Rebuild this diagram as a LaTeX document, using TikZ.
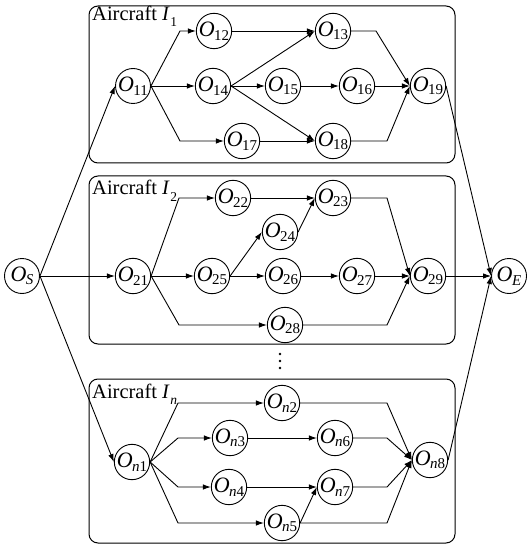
\documentclass[tikz,border=0pt]{standalone}
\usepackage{fontspec}
\setmainfont{Liberation Serif}
\usetikzlibrary{arrows.meta}
% operation label O_{ij}: italic O with an upright, lowered index
\newcommand\opn[1]{\textit{O}\kern-0.5pt\raisebox{-3.5pt}{\fontsize{15}{15}\selectfont #1}}
% group title "Aircraft I_k"
\newcommand\acl[1]{Aircraft \textit{I}\kern0.5pt\raisebox{-6pt}{\fontsize{13.5}{13.5}\selectfont #1}}

\begin{document}
\begin{tikzpicture}[x=1pt,y=-1pt,
  op/.style={circle,draw,line width=0.9pt,minimum size=35pt,inner sep=0pt,
             font=\fontsize{22}{22}\selectfont},
  grp/.style={draw,line width=1pt,rounded corners=9pt},
  lbl/.style={anchor=base west,inner sep=0pt,font=\fontsize{20.5}{20.5}\selectfont},
  arr/.style={line width=0.9pt,-{Latex[length=8pt,width=5.5pt]}}]
\useasboundingbox (0,0) rectangle (527,545);

% group frames
\draw[grp] (89,6) rectangle (455,163);
\draw[grp] (89,176) rectangle (455,344);
\draw[grp] (89,379) rectangle (455,543);
\node[lbl] (L1) at (92,21) {\acl{1}};
\node[lbl] (L2) at (92,195) {\acl{2}};
\node[lbl] (L3) at (92,398) {\acl{\textit{n}}};

% bend columns
\coordinate (kL1) at (180,0);
\coordinate (kL2) at (179,0);
\coordinate (kL3) at (178,0);
\coordinate (kR1) at (376,0);
\coordinate (kR) at (387,0);

% start and end
\node[op] (OS) at (22,276) {\opn{\textit{S}}};
\node[op] (OE) at (509,276) {\opn{\textit{E}}};

% aircraft 1
\node[op] (O11) at (133,86) {\opn{11}};
\node[op] (O12) at (214,31) {\opn{12}};
\node[op] (O13) at (333,31) {\opn{13}};
\node[op] (O14) at (213,86) {\opn{14}};
\node[op] (O15) at (283,86) {\opn{15}};
\node[op] (O16) at (357,86) {\opn{16}};
\node[op] (O17) at (242,141) {\opn{17}};
\node[op] (O18) at (333,141) {\opn{18}};
\node[op] (O19) at (428,86) {\opn{19}};

% aircraft 2
\node[op] (O21) at (133,276) {\opn{21}};
\node[op] (O22) at (233,198) {\opn{22}};
\node[op] (O23) at (333,198) {\opn{23}};
\node[op] (O24) at (280,232) {\opn{24}};
\node[op] (O25) at (212,276) {\opn{25}};
\node[op] (O26) at (283,276) {\opn{26}};
\node[op] (O27) at (357,276) {\opn{27}};
\node[op] (O28) at (285,325) {\opn{28}};
\node[op] (O29) at (428,276) {\opn{29}};

% aircraft n
\node[op] (On1) at (132,462) {\opn{\textit{n}1}};
\node[op] (On2) at (282,403) {\opn{\textit{n}2}};
\node[op] (On3) at (230,438) {\opn{\textit{n}3}};
\node[op] (On4) at (229,487) {\opn{\textit{n}4}};
\node[op] (On5) at (282,523) {\opn{\textit{n}5}};
\node[op] (On6) at (335,438) {\opn{\textit{n}6}};
\node[op] (On7) at (335,487) {\opn{\textit{n}7}};
\node[op] (On8) at (430,460) {\opn{\textit{n}8}};

% vertical ellipsis between groups
\foreach \y in {354,361,368} \fill (280,\y) circle (1.3);

% source and sink links
\draw[arr] (OS.east) -- (O11.west);
\draw[arr] (OS) -- (O21);
\draw[arr] (OS.east) -- (On1.west);
\draw[arr] (O19.east) -- (OE.west);
\draw[arr] (O29) -- (OE);
\draw[arr] (On8.east) -- (OE.west);

% aircraft 1 links
\draw[arr] (O11.east) -- (kL1 |- O12) -- (O12.west);
\draw[arr] (O11) -- (O14);
\draw[arr] (O11.east) -- (kL1 |- O17) -- (O17.west);
\draw[arr] (O12) -- (O13);
\draw[arr] (O14.east) -- (O13.west);
\draw[arr] (O14) -- (O15);
\draw[arr] (O14.east) -- (O18.west);
\draw[arr] (O15) -- (O16);
\draw[arr] (O17) -- (O18);
\draw[arr] (O13.east) -- (kR1 |- O13) -- (O19.west);
\draw[arr] (O16) -- (O19);
\draw[arr] (O18.east) -- (kR |- O18) -- (O19.west);

% aircraft 2 links
\draw[arr] (O21.east) -- (kL2 |- O22) -- (O22.west);
\draw[arr] (O21) -- (O25);
\draw[arr] (O21.east) -- (kL2 |- O28) -- (O28.west);
\draw[arr] (O22) -- (O23);
\draw[arr] (O25.east) -- (O24.west);
\draw[arr] (O25) -- (O26);
\draw[arr] (O24.east) -- (O23.west);
\draw[arr] (O26) -- (O27);
\draw[arr] (O23.east) -- (kR |- O23) -- (O29.west);
\draw[arr] (O27) -- (O29);
\draw[arr] (O28.east) -- (kR |- O28) -- (O29.west);

% aircraft n links
\draw[arr] (On1.east) -- (kL3 |- On2) -- (On2.west);
\draw[arr] (On1.east) -- (kL3 |- On3) -- (On3.west);
\draw[arr] (On1.east) -- (kL3 |- On4) -- (On4.west);
\draw[arr] (On1.east) -- (kL3 |- On5) -- (On5.west);
\draw[arr] (On3) -- (On6);
\draw[arr] (On4) -- (On7);
\draw[arr] (On5.east) -- (On7.west);
\draw[arr] (On2.east) -- (kR |- On2) -- (On8.west);
\draw[arr] (On6.east) -- (kR |- On6) -- (On8.west);
\draw[arr] (On7.east) -- (kR |- On7) -- (On8.west);
\draw[arr] (On5.east) -- (kR |- On5) -- (On8.west);
\end{tikzpicture}
\end{document}
